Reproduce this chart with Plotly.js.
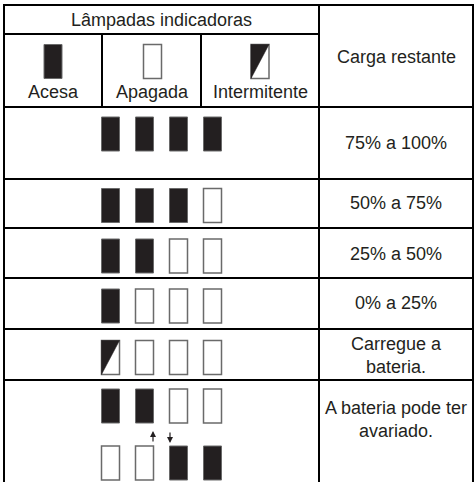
<!DOCTYPE html>
<html>
<head>
<meta charset="utf-8">
<script src="https://cdn.plot.ly/plotly-3.0.1.min.js"></script>
<style>html,body{margin:0;padding:0;background:#fff;}#chart{width:475px;height:482px;}</style>
</head>
<body>
<div id="chart"></div>
<script>
// ---- data ----
const titleText = "Lâmpadas indicadoras";
const chargeHeader = "Carga restante";
const headerLabels = ["Acesa", "Apagada", "Intermitente"];
const headerStates = [1, 0, 2]; // 1 = on, 0 = off, 2 = blinking
const rowLabels = [
  ["75% a 100%"],
  ["50% a 75%"],
  ["25% a 50%"],
  ["0% a 25%"],
  ["Carregue a", "bateria."],
  ["A bateria pode ter", "avariado."]
];
const rowLamps = [
  [[1, 1, 1, 1]],
  [[1, 1, 1, 0]],
  [[1, 1, 0, 0]],
  [[1, 0, 0, 0]],
  [[2, 0, 0, 0]],
  [[1, 1, 0, 0], [0, 0, 1, 1]]
];

// ---- layout geometry ----
const L = 4, T = 5, R = 473, B = 482, DIV = 319;
const headerSplit = 34, headerBottom = 107;
const subDivs = [102, 201];
const rowLines = [107, 179, 228, 278, 329, 380];
const headerLampX = [53, 152.5, 260];
const headerLampY = 61.5;
const headerTextY = 92;
const lampX0 = 110.5, lampDX = 34, lampW = 18, lampH = 34;
const lampY = [[134], [205.5], [256], [306], [357.5], [406, 463]];
const labelY = [143, 203, 254, 303, 355, 419.5];
const labelX = (DIV + R) / 2;

const DARK = "#231f20", EDGE = "#6a6a6a", TXT = "#231f20";
const FONT = {family: "Liberation Sans, Arial, sans-serif", size: 18, color: TXT};

const shapes = [];
function line(x0, y0, x1, y1) {
  shapes.push({type: "line", xref: "x", yref: "y", x0, y0, x1, y1,
    line: {color: "#000", width: 2}});
}
function lamp(cx, cy, state) {
  const x0 = cx - lampW / 2, x1 = cx + lampW / 2, y0 = cy - lampH / 2, y1 = cy + lampH / 2;
  shapes.push({type: "rect", xref: "x", yref: "y", x0, y0, x1, y1,
    fillcolor: state === 1 ? DARK : "#fff",
    line: {color: EDGE, width: state === 1 ? 1 : 1.5}});
  if (state === 2) {
    shapes.push({type: "path", xref: "x", yref: "y",
      path: `M ${x0},${y0} L ${x1},${y0} L ${x0},${y1} Z`,
      fillcolor: DARK, line: {color: DARK, width: 0.5}});
  }
}

// grid lines
line(L - 1, T, R + 1, T);
line(L, T, L, B + 2);
line(R, T, R, B + 2);
line(DIV, T, DIV, B + 2);
line(L, headerSplit, DIV, headerSplit);
subDivs.forEach(x => line(x, headerSplit, x, headerBottom));
rowLines.forEach(y => line(L, y, R, y));

const annotations = [];
function text(x, y, s) {
  annotations.push({xref: "x", yref: "y", x, y, text: s, showarrow: false,
    xanchor: "center", yanchor: "middle", align: "center", font: FONT});
}

// header
text((L + DIV) / 2, (T + headerSplit) / 2 + 0.5, titleText);
text(labelX, 57, chargeHeader);
headerLabels.forEach((s, i) => {
  text(headerLampX[i], headerTextY, s);
  lamp(headerLampX[i], headerLampY, headerStates[i]);
});

// rows
rowLamps.forEach((sets, r) => {
  sets.forEach((states, k) => {
    states.forEach((st, i) => lamp(lampX0 + i * lampDX, lampY[r][k], st));
  });
  text(labelX, labelY[r], rowLabels[r].join("<br>"));
});

// arrows between the two states of the last row
const arrowX = [153, 170];
annotations.push({xref: "x", yref: "y", axref: "x", ayref: "y",
  x: arrowX[0], y: 431, ax: arrowX[0], ay: 443, text: "", showarrow: true,
  arrowhead: 2, arrowsize: 1, arrowwidth: 1.2, arrowcolor: TXT, standoff: 0, startstandoff: 0});
annotations.push({xref: "x", yref: "y", axref: "x", ayref: "y",
  x: arrowX[1], y: 443, ax: arrowX[1], ay: 431, text: "", showarrow: true,
  arrowhead: 2, arrowsize: 1, arrowwidth: 1.2, arrowcolor: TXT, standoff: 0, startstandoff: 0});

const layout = {
  width: 475, height: 482,
  margin: {l: 0, r: 0, t: 0, b: 0, pad: 0},
  paper_bgcolor: "#fff", plot_bgcolor: "#fff",
  showlegend: false,
  xaxis: {range: [0, 475], visible: false, fixedrange: true},
  yaxis: {range: [482, 0], visible: false, fixedrange: true},
  shapes, annotations
};

Plotly.newPlot("chart", [{type: "scatter", x: [], y: [], hoverinfo: "skip"}], layout,
  {staticPlot: true, displayModeBar: false});
</script>
</body>
</html>
